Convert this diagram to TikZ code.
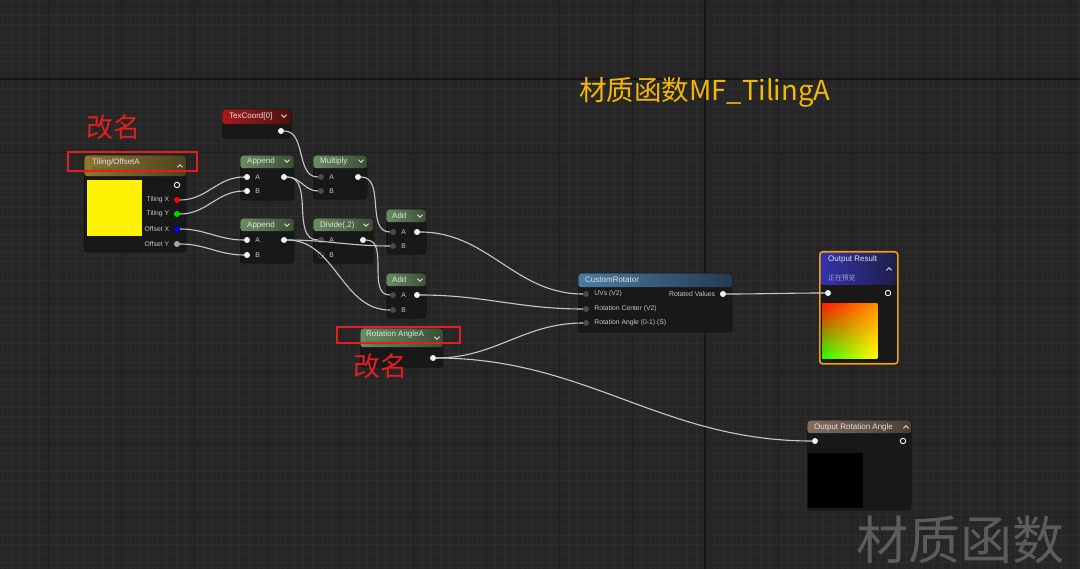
\documentclass[tikz,border=0pt]{standalone}
\usepackage{fontspec}
\setmainfont{Liberation Sans}
\newfontfamily\cjk{Noto Sans CJK SC}
\usetikzlibrary{calc}

\definecolor{bgcol}{HTML}{262626}
\definecolor{finecol}{HTML}{2D2D2D}
\definecolor{majorcol}{HTML}{1F1F1F}
\definecolor{axiscol}{HTML}{151515}
\definecolor{nodebody}{HTML}{181818}
\definecolor{nodeedge}{HTML}{0C0C0C}
\definecolor{wirecol}{HTML}{C8C8C8}
\definecolor{ttlcol}{HTML}{E2E2E2}
\definecolor{lblcol}{HTML}{C8C8C8}
\definecolor{pinwhite}{HTML}{F2F2F2}
\definecolor{pingray}{HTML}{4A4A4A}
\definecolor{goldL}{HTML}{8C7830}
\definecolor{goldR}{HTML}{4C4220}
\definecolor{redL}{HTML}{A81A1A}
\definecolor{redR}{HTML}{4E1010}
\definecolor{grnL}{HTML}{6A8C62}
\definecolor{grnR}{HTML}{3A4E36}
\definecolor{bluL}{HTML}{4A7CA4}
\definecolor{bluR}{HTML}{263A50}
\definecolor{navL}{HTML}{3434AC}
\definecolor{navR}{HTML}{1E1E48}
\definecolor{brnL}{HTML}{846C5C}
\definecolor{brnR}{HTML}{4A3E36}
\definecolor{outorange}{HTML}{F0A010}
\definecolor{titleyel}{HTML}{F5B800}
\definecolor{markred}{HTML}{E41E1E}
\definecolor{wmark}{HTML}{5C5C5C}
\definecolor{prvTL}{RGB}{255,30,0}
\definecolor{prvTR}{RGB}{255,140,0}
\definecolor{prvBL}{RGB}{40,255,0}
\definecolor{prvBR}{RGB}{255,255,0}

% small header chevrons
\newcommand{\chevdn}[2]{\draw[chev] (#1-2.6,#2-1.3) -- (#1,#2+1.3) -- (#1+2.6,#2-1.3);}
\newcommand{\chevup}[2]{\draw[chev] (#1-2.6,#2+1.3) -- (#1,#2-1.3) -- (#1+2.6,#2+1.3);}

\begin{document}
\begin{tikzpicture}[x=1pt, y=-1pt,
  ueblock/.style={draw=nodeedge, fill=nodebody, rounded corners=3pt, inner sep=0pt, anchor=north west},
  hdr/.style n args={3}{path picture={\shade[left color=#1, right color=#2]
      (path picture bounding box.north west) rectangle ([yshift=-#3]path picture bounding box.north east);}},
  ttl/.style={font=\fontsize{8}{9}\selectfont, text=ttlcol, inner sep=0pt, anchor=west},
  subttl/.style={font=\fontsize{6.8}{8}\selectfont, inner sep=0pt, anchor=west},
  pinlbl/.style={font=\fontsize{6.8}{8}\selectfont, text=lblcol, inner sep=0pt},
  lblL/.style={pinlbl, xshift=-4.5pt},
  lblR/.style={pinlbl, xshift=5pt},
  pinw/.style={circle, fill=pinwhite, inner sep=0pt, minimum size=6pt},
  ping/.style={circle, fill=pingray, inner sep=0pt, minimum size=6pt},
  pinh/.style={circle, draw=pinwhite, line width=0.9pt, fill=nodebody, inner sep=0pt, minimum size=5.5pt},
  pinhd/.style={circle, draw=pingray, line width=0.9pt, fill=black, inner sep=0pt, minimum size=5.5pt},
  chev/.style={draw=ttlcol, line width=0.8pt},
  wire/.style={draw=wirecol, line width=1.1pt},
  markbox/.style={draw=markred, line width=1.6pt},
  marktxt/.style={font=\cjk\fontsize{27}{30}\selectfont, text=markred, inner sep=0pt},
  finegrid/.style={draw=finecol, line width=0.4pt},
  majorgrid/.style={draw=majorcol, line width=0.8pt}
]
\useasboundingbox (0,0) rectangle (1080,569);
\clip (0,0) rectangle (1080,569);

% canvas and grid
\fill[bgcol] (0,0) rectangle (1080,569);
\foreach \k in {-78,...,41} \draw[finegrid] ({705+9.125*\k},0) -- ++(0,569);
\foreach \k in {-9,...,54} \draw[finegrid] (0,{79+9.125*\k}) -- ++(1080,0);
\foreach \k in {-10,...,5} \draw[majorgrid] ({705+73*\k},0) -- ++(0,569);
\foreach \k in {-2,...,7} \draw[majorgrid] (0,{79+73*\k}) -- ++(1080,0);
\draw[draw=axiscol, line width=1.2pt] (705,0) -- (705,569);
\draw[draw=axiscol, line width=1.2pt] (0,79) -- (1080,79);

% title and watermark
\node[font=\cjk\fontsize{27.5}{30}\selectfont, text=titleyel, inner sep=0pt, anchor=west] (title) at (579,92) {材质函数MF\_TilingA};
\node[font=\cjk\fontsize{52}{56}\selectfont, text=wmark, inner sep=0pt] (wmk) at (960,540) {材质函数};

% Tiling/OffsetA parameter
\node[ueblock, hdr={goldL}{goldR}{21pt}, minimum width=102pt, minimum height=97pt] (tiling) at (84,155) {};
\node[ttl] (tilingT) at (92,162) {Tiling/OffsetA};
\node[subttl, text=goldL!70!black] (tilingS) at (92,171) {Param (1,1,0,0)};
\chevup{180}{166}
\fill[yellow] (87,180) rectangle (142,236);
\node[pinh] (tilingOut) at (177,185) {};
\node[pinw, fill=red, label={[lblL]left:Tiling X}] (tilingX) at (177,200) {};
\node[pinw, fill=green!85!black, label={[lblL]left:Tiling Y}] (tilingY) at (177,214) {};
\node[pinw, fill=blue, label={[lblL]left:Offset X}] (offsetX) at (177,229) {};
\node[pinw, fill=black!35, label={[lblL]left:Offset Y}] (offsetY) at (177,244) {};

% TexCoord
\node[ueblock, hdr={redL}{redR}{15pt}, minimum width=69pt, minimum height=29pt] (texcoord) at (222,109) {};
\node[ttl] (texcoordT) at (229,116) {TexCoord[0]};
\chevdn{284}{116}
\node[pinw] (texOut) at (281,131) {};

% Append (tiling)
\node[ueblock, hdr={grnL}{grnR}{13pt}, minimum width=54pt, minimum height=45pt] (appendT) at (240,155) {};
\node[ttl] (appendTT) at (247,161) {Append};
\chevdn{287}{161}
\node[pinw, label={[lblR]right:A}] (appTA) at (247,177) {};
\node[pinw, label={[lblR]right:B}] (appTB) at (247,191) {};
\node[pinw] (appTOut) at (284,177) {};

% Append (offset)
\node[ueblock, hdr={grnL}{grnR}{13pt}, minimum width=54pt, minimum height=45pt] (appendB) at (240,218) {};
\node[ttl] (appendBT) at (247,225) {Append};
\chevdn{287}{225}
\node[pinw, label={[lblR]right:A}] (appBA) at (247,240) {};
\node[pinw, label={[lblR]right:B}] (appBB) at (247,255) {};
\node[pinw] (appBOut) at (284,240) {};

% Multiply
\node[ueblock, hdr={grnL}{grnR}{13pt}, minimum width=54pt, minimum height=44pt] (multiply) at (313,155) {};
\node[ttl] (multiplyT) at (320,161) {Multiply};
\chevdn{361}{161}
\node[ping, label={[lblR]right:A}] (mulA) at (321,177) {};
\node[ping, label={[lblR]right:B}] (mulB) at (321,191) {};
\node[pinw] (mulOut) at (358,177) {};

% Divide
\node[ueblock, hdr={grnL}{grnR}{13pt}, minimum width=60pt, minimum height=45pt] (divide) at (313,218) {};
\node[ttl] (divideT) at (320,225) {Divide(,2)};
\chevdn{366}{225}
\node[ping, label={[lblR]right:A}] (divA) at (321,240) {};
\node[pinhd, label={[lblR]right:B}] (divB) at (321,255) {};
\node[pinw] (divOut) at (363,240) {};

% Add (uv)
\node[ueblock, hdr={grnL}{grnR}{13pt}, minimum width=40pt, minimum height=45pt] (addT) at (386,209) {};
\node[ttl] (addTT) at (392,216) {Add};
\chevdn{420}{216}
\node[ping, label={[lblR]right:A}] (addTA) at (393,232) {};
\node[ping, label={[lblR]right:B}] (addTB) at (393,246) {};
\node[pinw] (addTOut) at (417,232) {};

% Add (center)
\node[ueblock, hdr={grnL}{grnR}{13pt}, minimum width=40pt, minimum height=45pt] (addB) at (386,273) {};
\node[ttl] (addBT) at (392,280) {Add};
\chevdn{420}{280}
\node[ping, label={[lblR]right:A}] (addBA) at (393,295) {};
\node[ping, label={[lblR]right:B}] (addBB) at (393,310) {};
\node[pinw] (addBOut) at (417,295) {};

% Rotation AngleA parameter
\node[ueblock, hdr={grnL}{grnR}{19pt}, minimum width=83pt, minimum height=39pt] (rotangle) at (360,328) {};
\node[ttl] (rotangleT) at (366,334) {Rotation AngleA};
\node[subttl, text=grnL!75!black] (rotangleS) at (366,344) {Param (0)};
\chevdn{437}{338}
\node[pinw] (angOut) at (433,358) {};

% CustomRotator
\node[ueblock, hdr={bluL}{bluR}{14pt}, minimum width=154pt, minimum height=59pt] (rotator) at (578,273) {};
\node[ttl] (rotatorT) at (585,280) {CustomRotator};
\node[ping, label={[lblR]right:UVs (V2)}] (rotUV) at (586,294) {};
\node[ping, label={[lblR]right:Rotation Center (V2)}] (rotCtr) at (586,309) {};
\node[ping, label={[lblR]right:Rotation Angle (0-1) (S)}] (rotAng) at (586,323) {};
\node[pinw, label={[lblL]left:Rotated Values}] (rotOut) at (723,294) {};

% Output Result
\node[ueblock, draw=outorange, line width=1.6pt, hdr={navL}{navR}{33pt}, minimum width=78pt, minimum height=112pt] (outres) at (819,251) {};
\node[ttl] (outresT) at (828,259) {Output Result};
\node[subttl, font=\cjk\fontsize{6.8}{8}\selectfont, text=navL!45!white] (outresS) at (828,278) {正在预览};
\chevup{889}{269}
\node[pinw] (resIn) at (828,293) {};
\node[pinh] (resOut) at (888,293) {};
\foreach \i in {0,...,18} {
  \pgfmathtruncatemacro\p{round(100*\i/18)}
  \colorlet{ctop}{prvTR!\p!prvTL}
  \colorlet{cbot}{prvBR!\p!prvBL}
  \shade[top color=ctop, bottom color=cbot] ({822+\i*2.9},304) rectangle ({822+\i*2.9+3.2},359);
}

% Output Rotation Angle
\node[ueblock, hdr={brnL}{brnR}{13pt}, minimum width=104pt, minimum height=90pt] (outang) at (807,420) {};
\node[ttl] (outangT) at (814,427) {Output Rotation Angle};
\chevup{906}{427}
\node[pinw] (angIn) at (815,441) {};
\node[pinh] (angOutR) at (903,441) {};
\fill[black] (808,453) rectangle (863,508);

% wires
\draw[wire] (tilingX) to[out=0, in=180] (appTA);
\draw[wire] (tilingY) to[out=0, in=180] (appTB);
\draw[wire] (offsetX) to[out=0, in=180] (appBA);
\draw[wire] (offsetY) to[out=0, in=180] (appBB);
\draw[wire] (texOut) to[out=0, in=180] (mulA);
\draw[wire] (appTOut) to[out=0, in=180] (mulB);
\draw[wire] (appTOut) to[out=0, in=180] (divA);
\draw[wire] (appBOut) to[out=0, in=180] (addTB);
\draw[wire] (appBOut) to[out=0, in=180] (addBB);
\draw[wire] (mulOut) to[out=0, in=180] (addTA);
\draw[wire] (divOut) to[out=0, in=180] (addBA);
\draw[wire] (addTOut) to[out=0, in=180] (rotUV);
\draw[wire] (addBOut) to[out=0, in=180] (rotCtr);
\draw[wire] (angOut) to[out=0, in=180] (rotAng);
\draw[wire] (angOut) to[out=0, in=180] (angIn);
\draw[wire] (rotOut) to[out=0, in=180] (resIn);

% rename marks
\draw[markbox] (68,152) rectangle (197,171);
\node[marktxt] (markA) at (113,127) {改名};
\draw[markbox] (337,327) rectangle (460,343);
\node[marktxt] (markB) at (380,366) {改名};

\end{tikzpicture}
\end{document}
